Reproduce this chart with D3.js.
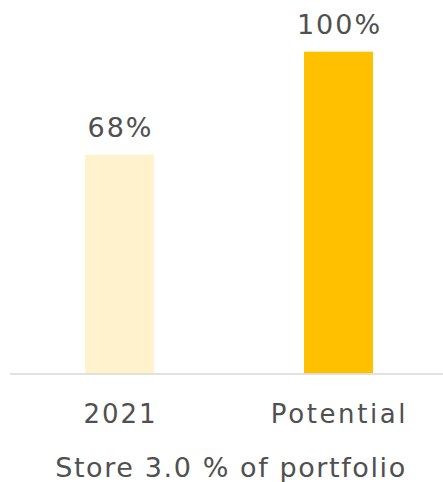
<!DOCTYPE html>
<html>
<head>
<meta charset="utf-8">
<script src="https://cdn.jsdelivr.net/npm/d3@7"></script>
<style>
  body { margin: 0; background: #fff; }
  text { font-family: "DejaVu Sans", sans-serif; fill: #505050; letter-spacing: 2px; }
</style>
</head>
<body>
<svg id="chart"></svg>
<script>
const categories = ["2021", "Potential"];
const values = [68, 100];
const valueLabels = ["68%", "100%"];
const barColors = ["#FFF2CC", "#FFC000"];
const title = "Store 3.0 % of portfolio";

const width = 443, height = 482;
const baseline = 373.5, plotTop = 51.7;

const svg = d3.select("#chart")
  .attr("width", width)
  .attr("height", height);

// band scale laid out so bars sit at 85-154 and 304-373
const x = d3.scaleBand()
  .domain(categories)
  .range([13, 445])
  .paddingInner(0.685)
  .paddingOuter(0.3288);

const y = d3.scaleLinear()
  .domain([0, 100])
  .range([baseline, plotTop]);

svg.selectAll(".bar")
  .data(categories)
  .enter()
  .append("rect")
    .attr("class", "bar")
    .attr("x", d => x(d))
    .attr("width", x.bandwidth())
    .attr("y", (d, i) => y(values[i]))
    .attr("height", (d, i) => baseline - y(values[i]))
    .style("fill", (d, i) => barColors[i]);

// value labels above bars
svg.selectAll(".val")
  .data(categories)
  .enter()
  .append("text")
    .attr("class", "val")
    .attr("x", d => x(d) + x.bandwidth() / 2 + 1)
    .attr("y", (d, i) => y(values[i]) - 18)
    .attr("text-anchor", "middle")
    .style("font-size", "27px")
    .text((d, i) => valueLabels[i]);

// baseline
svg.append("line")
  .attr("x1", 10).attr("x2", 443)
  .attr("y1", baseline + 0.5).attr("y2", baseline + 0.5)
  .style("stroke", "#d9d9d9")
  .style("stroke-width", 1.5);

// category labels
const xAxis = svg.append("g")
  .attr("transform", `translate(1,${baseline})`)
  .call(d3.axisBottom(x).tickSize(0).tickPadding(0));
xAxis.select(".domain").remove();
xAxis.selectAll("text")
  .attr("dy", null)
  .attr("y", 49)
  .style("font-size", "26px")
  .style("fill", "#505050")
  .style("letter-spacing", (d, i) => i ? "2.6px" : "2px")
  .style("font-family", "'DejaVu Sans', sans-serif");

svg.append("text")
  .attr("x", 231)
  .attr("y", 476.5)
  .attr("text-anchor", "middle")
  .style("font-size", "27px")
  .style("letter-spacing", "1.6px")
  .text(title);
</script>
</body>
</html>
